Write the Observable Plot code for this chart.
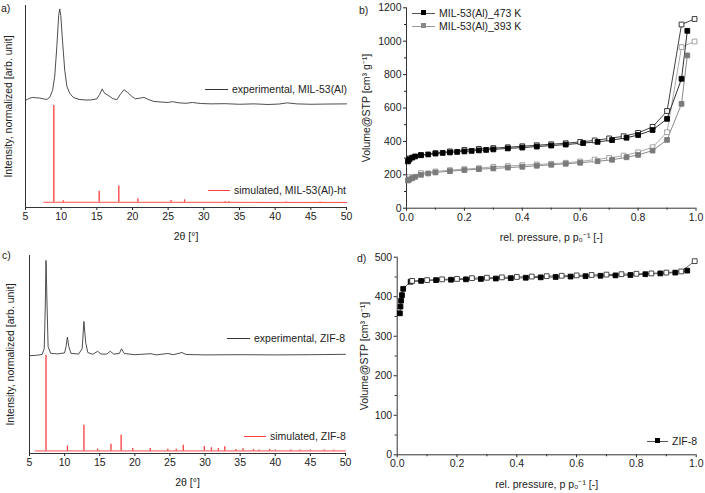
<!DOCTYPE html>
<html><head><meta charset="utf-8">
<script src="https://cdn.jsdelivr.net/npm/d3@7"></script>
<script src="https://cdn.jsdelivr.net/npm/@observablehq/plot@0.6"></script>
<style>
html,body{margin:0;padding:0;background:#fff;}
#fig{position:relative;width:705px;height:493px;font-family:"Liberation Sans",Arial,sans-serif;font-size:10.5px;color:#222;overflow:hidden;}
#fig svg{position:absolute;}
.lbl{position:absolute;font-size:10.5px;line-height:1;}
.leg{position:absolute;font-size:10.5px;line-height:1;white-space:nowrap;display:flex;align-items:center;}
.leg .ln{position:relative;display:inline-block;height:1px;margin-right:4px;}
.leg .mk{position:absolute;left:50%;top:50%;width:5px;height:5px;margin:-3px 0 0 -3px;box-sizing:border-box;}
</style></head>
<body><div id="fig"></div>
<script>
// ---------- DATA ----------
const xrdTicks = [5,10,15,20,25,30,35,40,45,50];
const pTicks = [0,0.2,0.4,0.6,0.8,1.0];
const pMinor = [0.1,0.3,0.5,0.7,0.9];
const vTicksB = [0,200,400,600,800,1000,1200];
const vMinorB = [100,300,500,700,900,1100];
const vTicksD = [0,100,200,300,400,500];
const vMinorD = [50,150,250,350,450];

// a) MIL-53(Al) XRD, experimental trace (2θ, normalized intensity)
const expA_t = [5.0,5.5,6.0,6.5,7.0,7.5,8.0,8.4,8.8,9.1,9.4,9.65,9.8,9.95,10.2,10.5,10.8,11.2,11.7,12.5,13.5,14.3,15.0,15.4,15.75,16.1,16.6,17.2,17.8,18.3,18.8,19.3,19.9,20.4,21.0,21.6,22.2,23.0,24.0,25.0,25.6,26.5,27.5,28.4,29.5,31,33,35,37,39,40.5,41.7,43,45,47,50];
const expA_i = [53.0,54.0,54.5,54.3,54.2,53.8,53.5,54.5,58,65,80,95,98.3,95,82,68,60,56.5,54.5,53.5,53.2,53.3,53.8,56,58.7,56.5,55.5,54,53.3,56,58.3,57,55,53.8,54.1,54.5,53.5,52.5,52.2,52.0,52.4,51.8,51.6,52.0,51.5,51.3,51.4,51.1,51.3,51.0,51.2,51.8,51.3,51.1,51.2,51.3];
// a) simulated MIL-53(Al)-ht reflections
const simA_t = [8.97,10.3,15.33,18.08,20.75,25.4,27.3,33.0,33.5,41.5,46.3];
const simA_i = [50.5,3.4,8.1,10.6,4.3,3.5,3.8,3.0,3.0,2.9,2.8];
const simA_base_t = [7.57,50];
const simA_base_i = [2.6,2.5];

// c) ZIF-8 XRD, experimental trace
const expC_t = [5.0,6.0,6.8,7.1,7.25,7.35,7.5,7.65,8.0,9.0,10.0,10.2,10.4,10.6,10.9,12.0,12.5,12.75,13.0,13.3,14.0,14.7,15.2,16.0,16.5,17.0,17.8,18.1,18.5,20,22.3,23,24.7,25.5,26.7,27.3,30,35,40,45,50];
const expC_i = [49.4,49.6,50.0,53,75,97.5,75,54,50.6,50.3,50.8,54,58.8,54,50.6,50.2,53,66.7,56,51,50.1,51.6,50.2,50.2,51.6,50.2,50.5,52.9,50.5,49.9,50.4,49.8,50.5,49.9,51.0,50,49.8,49.9,49.8,49.9,50.1];
// c) simulated ZIF-8 reflections
const simC_t = [7.35,10.4,12.75,14.7,16.6,18.05,19.7,22.2,24.7,25.9,26.9,29.9,30.9,31.9,32.8,34.4,35.4,36.9,37.7,39.2,40.0,42.2,43.5,45.0,47.0,48.3];
const simC_i = [49.6,3.7,14.3,2.2,4.7,9.2,2.5,2.5,2.2,2.2,4.2,3.5,2.9,2.5,3.4,2.0,2.4,2.0,1.8,2.0,1.8,1.8,1.8,1.8,1.8,1.7];
const simC_base_t = [5.8,50];
const simC_base_i = [1.3,1.3];

// b) MIL-53(Al) N2 isotherms (p/p0, volume cm3/g)
const ads473_p = [0.005,0.01,0.02,0.03,0.05,0.075,0.1,0.125,0.15,0.175,0.2,0.225,0.25,0.275,0.3,0.35,0.4,0.45,0.5,0.55,0.61,0.66,0.71,0.76,0.8,0.85,0.9,0.95,0.97];
const ads473_v = [280,292,303,310,318,322,327,331,334,337,340,343,346,349,352,358,363,369,375,381,390,397,408,422,438,468,535,775,1062];
const des473_p = [0.995,0.95,0.9,0.85,0.8,0.75,0.7,0.65,0.6,0.55,0.5,0.45,0.4,0.35,0.3,0.25,0.2,0.15,0.1,0.05,0.01];
const des473_v = [1133,1100,582,487,451,431,418,406,397,389,383,377,371,365,360,355,349,340,330,317,298];
const ads393_p = [0.005,0.01,0.02,0.03,0.05,0.075,0.1,0.15,0.2,0.25,0.3,0.35,0.4,0.45,0.5,0.55,0.6,0.66,0.71,0.76,0.8,0.85,0.9,0.95,0.97];
const ads393_v = [166,172,180,188,200,208,214,222,228,234,238,243,248,254,260,266,272,281,290,305,319,345,409,625,915];
const des393_p = [0.995,0.95,0.9,0.85,0.8,0.75,0.7,0.65,0.6,0.55,0.5,0.45,0.4,0.35,0.3,0.25,0.2,0.15,0.1,0.05,0.01];
const des393_v = [998,965,455,365,335,315,301,291,280,272,266,262,258,252,248,240,234,228,220,210,186];

// d) ZIF-8 N2 isotherm
const adsZ_p = [0.009,0.011,0.013,0.016,0.02,0.045,0.08,0.13,0.18,0.23,0.28,0.33,0.38,0.43,0.48,0.53,0.58,0.63,0.68,0.73,0.78,0.83,0.88,0.93,0.97];
const adsZ_v = [358,375,390,404,420,438,440,442,443,444,445,446,447,448,449,450,451,452,453,454,455,457,459,461,466];
const desZ_p = [0.995,0.95,0.9,0.85,0.8,0.75,0.7,0.65,0.6,0.55,0.5,0.45,0.4,0.35,0.3,0.25,0.2,0.15,0.1,0.05];
const desZ_v = [490,464,461,459,458,457,456,455,454,453,452,451,450,449,448,447,445,444,442,440];

// ---------- BUILD ----------
const zip = (xs, ys) => xs.map((x, i) => ({x, y: ys[i]}));
const FONT = '"Liberation Sans", Arial, sans-serif';
const style = {fontFamily: FONT, fontSize: "10.5px", color: "#222", background: "transparent", overflow: "visible"};
const fig = document.getElementById("fig");
function place(svg, left, top) { svg.style.left = left + "px"; svg.style.top = top + "px"; fig.appendChild(svg); }

function xrdPlot(exp, sim, simBase, baseLevel, opts) {
  return Plot.plot({
    width: 350, height: opts.height,
    marginLeft: opts.ml, marginRight: opts.mr, marginTop: opts.mt, marginBottom: opts.mb,
    style,
    x: {domain: [5, 50]},
    y: {domain: [0, 100]},
    marks: [
      Plot.axisX({ticks: xrdTicks, tickSize: 3, tickPadding: 2, label: "2θ [°]", labelAnchor: "center", labelArrow: "none", labelOffset: 32}),
      Plot.axisY({ticks: [], label: "Intensity, normalized [arb. unit]", labelAnchor: "center", labelArrow: "none", labelOffset: opts.ylo}),
      Plot.ruleX([5], {stroke: "#333"}),
      Plot.ruleY([0], {stroke: "#333"}),
      Plot.line(simBase, {x: "x", y: "y", stroke: "#ff4d4d", strokeWidth: 1}),
      Plot.ruleX(sim, {x: "x", y1: baseLevel, y2: "y", stroke: "#ff3b3b", strokeWidth: 1.3}),
      Plot.line(exp, {x: "x", y: "y", stroke: "#3a3a3a", strokeWidth: 0.9})
    ]
  });
}

// panel a
place(xrdPlot(zip(expA_t, expA_i), zip(simA_t, simA_i), zip(simA_base_t, simA_base_i), simA_base_i[0],
  {height: 245, ml: 25, mr: 4, mt: 5, mb: 38, ylo: 21}), 0, 0);
// panel c
place(xrdPlot(zip(expC_t, expC_i), zip(simC_t, simC_i), zip(simC_base_t, simC_base_i), simC_base_i[0],
  {height: 248, ml: 29, mr: 5, mt: 10, mb: 40, ylo: 23}), 0, 245);

function isoMarks(series) {
  const m = [];
  for (const s of series) m.push(Plot.line(s.data, {x: "x", y: "y", stroke: s.line, strokeWidth: 1}));
  for (const s of series) m.push(Plot.dot(s.data, {x: "x", y: "y", symbol: "square", r: 2.7, fill: s.fill, stroke: s.stroke, strokeWidth: 0.9}));
  return m;
}

const intFmt = d3.format("d");

// panel b
place(Plot.plot({
  width: 355, height: 245, marginLeft: 56, marginRight: 9.5, marginTop: 7.3, marginBottom: 37.3,
  style,
  x: {domain: [0, 1]},
  y: {domain: [0, 1200]},
  marks: [
    Plot.axisX({ticks: pTicks, tickSize: 3, tickPadding: 2, tickFormat: d3.format(".1f"), label: "rel. pressure, p p₀⁻¹ [-]", labelAnchor: "center", labelArrow: "none", labelOffset: 33}),
    Plot.axisX({ticks: pMinor, tickSize: 2, tickFormat: () => "", label: null}),
    Plot.axisY({ticks: vTicksB, tickSize: 3, tickPadding: 2, tickFormat: intFmt, label: "Volume@STP [cm³ g⁻¹]", labelAnchor: "center", labelArrow: "none", labelOffset: 44}),
    Plot.axisY({ticks: vMinorB, tickSize: 2, tickFormat: () => "", label: null}),
    Plot.ruleX([0], {stroke: "#333"}),
    Plot.ruleY([0], {stroke: "#333"}),
    ...isoMarks([
      {data: zip(des393_p, des393_v), line: "#aaa", fill: "white", stroke: "#999"},
      {data: zip(ads393_p, ads393_v), line: "#8a8a8a", fill: "#7a7a7a", stroke: "#7a7a7a"},
      {data: zip(des473_p, des473_v), line: "#444", fill: "white", stroke: "#222"},
      {data: zip(ads473_p, ads473_v), line: "#333", fill: "#000", stroke: "#000"}
    ])
  ]
}), 350, 0);

// panel d
place(Plot.plot({
  width: 355, height: 248, marginLeft: 46.7, marginRight: 9.3, marginTop: 11.7, marginBottom: 38.7,
  style,
  x: {domain: [0, 1]},
  y: {domain: [0, 500]},
  marks: [
    Plot.axisX({ticks: pTicks, tickSize: 3, tickPadding: 2, tickFormat: d3.format(".1f"), label: "rel. pressure, p p₀⁻¹ [-]", labelAnchor: "center", labelArrow: "none", labelOffset: 33}),
    Plot.axisX({ticks: pMinor, tickSize: 2, tickFormat: () => "", label: null}),
    Plot.axisY({ticks: vTicksD, tickSize: 3, tickPadding: 2, tickFormat: intFmt, label: "Volume@STP [cm³ g⁻¹]", labelAnchor: "center", labelArrow: "none", labelOffset: 37}),
    Plot.axisY({ticks: vMinorD, tickSize: 2, tickFormat: () => "", label: null}),
    Plot.ruleX([0], {stroke: "#333"}),
    Plot.ruleY([0], {stroke: "#333"}),
    ...isoMarks([
      {data: zip(adsZ_p, adsZ_v), line: "#555", fill: "#000", stroke: "#000"},
      {data: zip(desZ_p, desZ_v), line: "#666", fill: "white", stroke: "#333"}
    ])
  ]
}), 350, 245);

// panel letters
for (const [t, l, tp] of [["a)", 1, 3], ["b)", 359, 5], ["c)", 2, 250], ["d)", 357, 253]]) {
  const d = document.createElement("div"); d.className = "lbl"; d.textContent = t;
  d.style.left = l + "px"; d.style.top = tp + "px"; fig.appendChild(d);
}

// legends
function legend(left, top, text, lineColor, lineW, mk) {
  const d = document.createElement("div"); d.className = "leg";
  d.style.left = left + "px"; d.style.top = top + "px";
  const ln = document.createElement("span"); ln.className = "ln";
  ln.style.width = lineW + "px"; ln.style.background = lineColor;
  if (mk) { const m = document.createElement("span"); m.className = "mk"; m.style.background = mk.fill; m.style.border = "1px solid " + mk.stroke; ln.appendChild(m); }
  d.appendChild(ln); d.appendChild(document.createTextNode(text)); fig.appendChild(d);
}
legend(205, 84, "experimental, MIL-53(Al)", "#333", 23);
legend(208, 185, "simulated, MIL-53(Al)-ht", "#ff4040", 22);
legend(412, 8, "MIL-53(Al)_473 K", "#555", 23, {fill: "#000", stroke: "#000"});
legend(412, 21, "MIL-53(Al)_393 K", "#999", 23, {fill: "#888", stroke: "#888"});
legend(227, 333, "experimental, ZIF-8", "#333", 23);
legend(244, 431, "simulated, ZIF-8", "#ff4040", 22);
legend(647, 436, "ZIF-8", "#555", 21, {fill: "#000", stroke: "#000"});
</script></body></html>
